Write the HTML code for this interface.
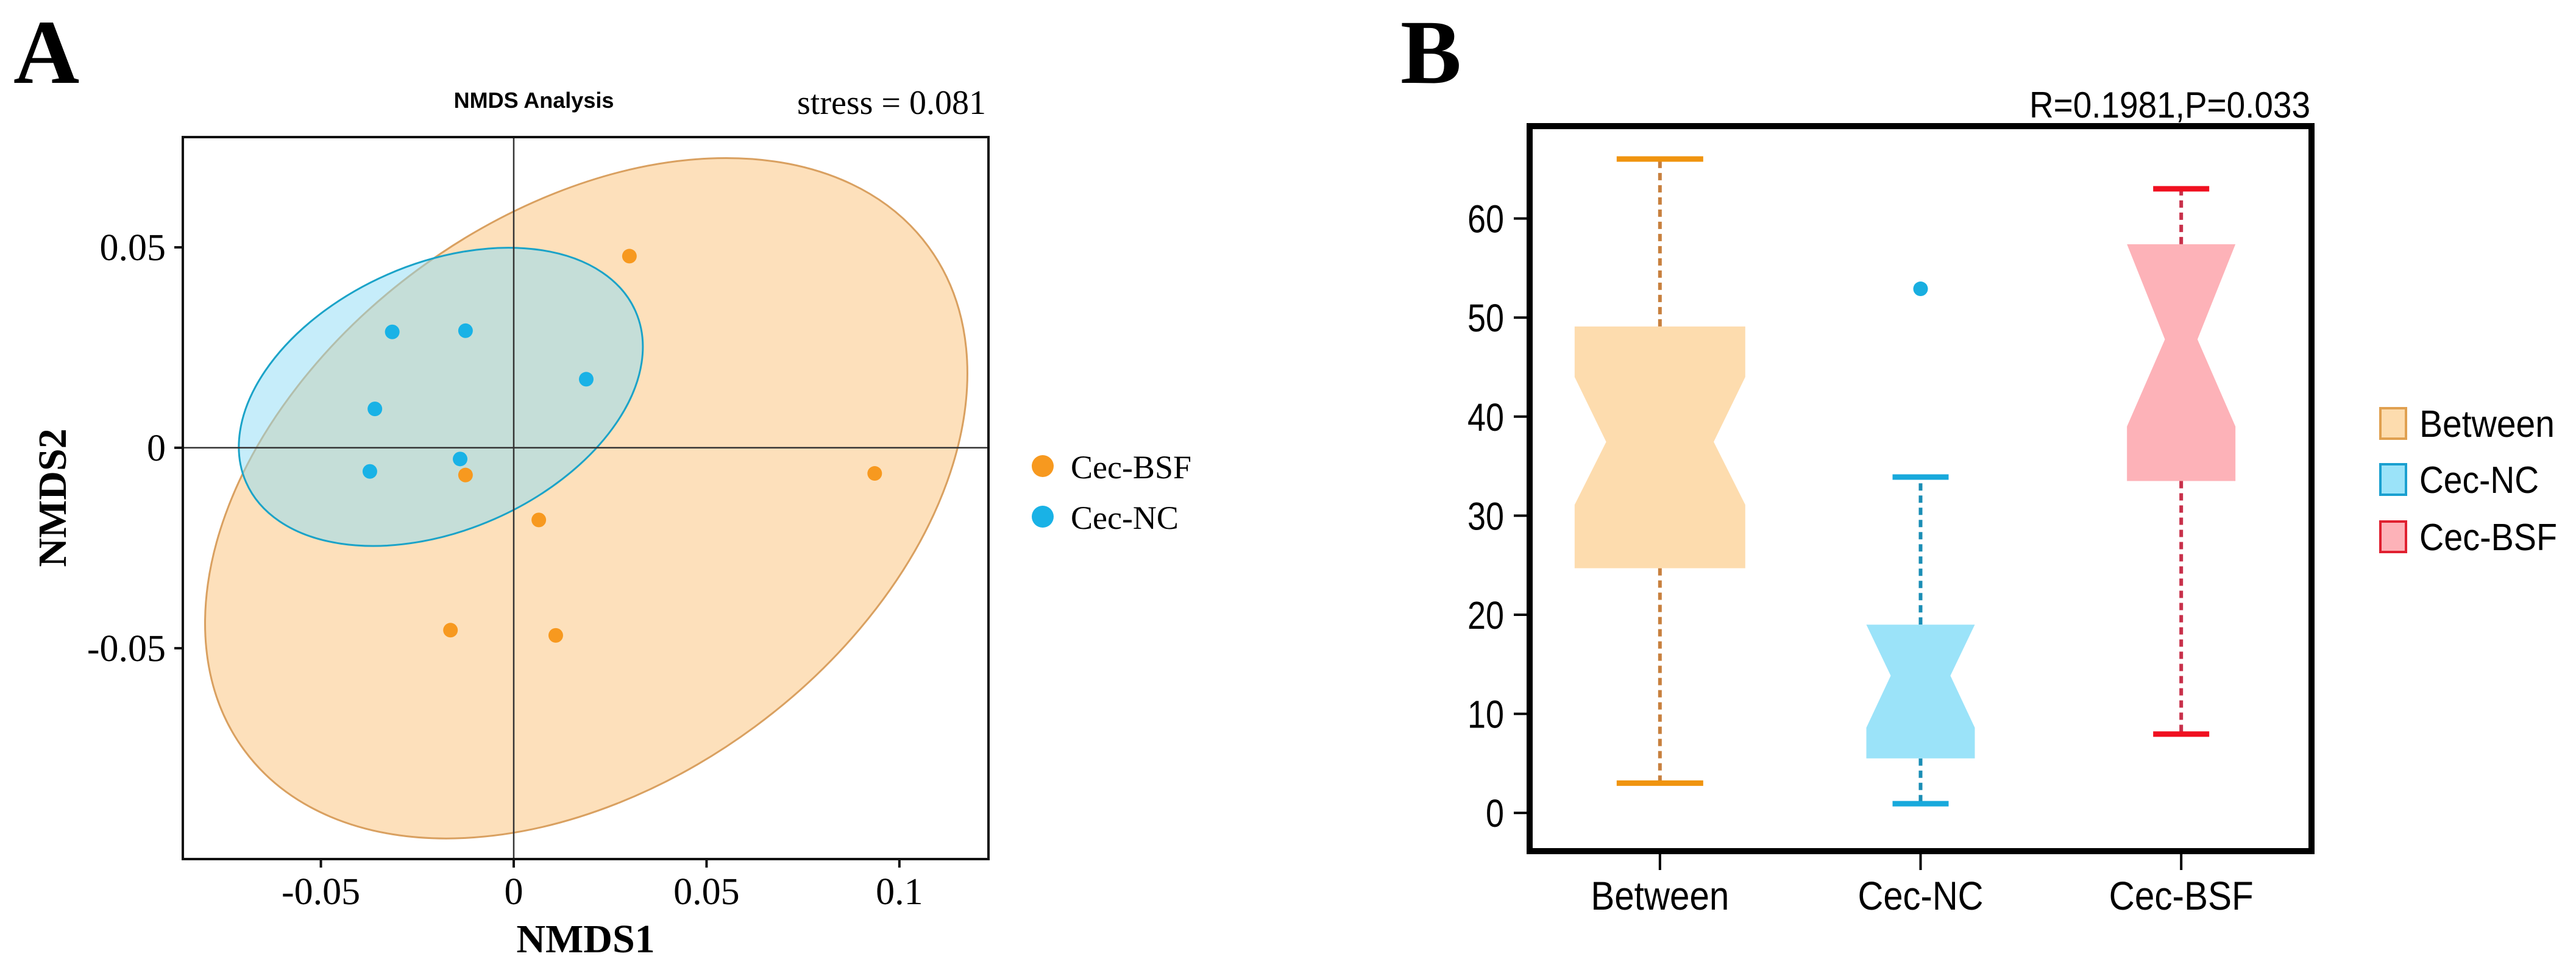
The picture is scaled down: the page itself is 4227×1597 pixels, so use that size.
<!DOCTYPE html>
<html><head><meta charset="utf-8">
<style>
html,body{margin:0;padding:0;background:#fff;}
svg{display:block;}
.serif{font-family:"Liberation Serif",serif;}
.sans{font-family:"Liberation Sans",sans-serif;}
</style></head>
<body>
<svg id="fig" width="4227" height="1597" viewBox="0 0 4227 1597" xmlns="http://www.w3.org/2000/svg">
  <rect x="0" y="0" width="4227" height="1597" fill="#fff"/>
  <g id="panelA">
    <text class="serif" x="22" y="136" font-size="150" font-weight="bold">A</text>
    <text class="sans" x="876" y="177" font-size="36" font-weight="bold" text-anchor="middle">NMDS Analysis</text>
    <text class="serif" x="1618" y="187" font-size="56" text-anchor="end">stress = 0.081</text>
    <g id="ellA"></g>
    <g id="axA"></g>
    <g id="ptsA"></g>
    <text class="serif" x="961" y="1563" font-size="66" font-weight="bold" text-anchor="middle">NMDS1</text>
    <text class="serif" x="0" y="0" font-size="66" font-weight="bold" text-anchor="middle" transform="translate(108,817) rotate(-90)">NMDS2</text>
    <g>
      <circle cx="1711" cy="765" r="18" fill="#f7991f"/>
      <text class="serif" x="1757" y="785" font-size="54">Cec-BSF</text>
      <circle cx="1711" cy="848" r="18" fill="#19b2e6"/>
      <text class="serif" x="1757" y="868" font-size="54">Cec-NC</text>
    </g>
  </g>
  <g id="panelB">
    <text class="serif" x="2298" y="136" font-size="150" font-weight="bold">B</text>
    <text class="sans" x="3791" y="193" font-size="60" text-anchor="end" textLength="461" lengthAdjust="spacingAndGlyphs">R=0.1981,P=0.033</text>
    <g id="boxB"></g>
    <g id="axB"></g>
    <g id="legB"></g>
  </g>
</svg>
<script>
// ---------- Panel A data ----------
const groupsA = ["Cec-BSF", "Cec-NC"];
const bsfX = [0.0300, -0.0125, 0.0065, -0.0164, 0.0109, 0.0936];
const bsfY = [0.0478, -0.0068, -0.0180, -0.0455, -0.0468, -0.0064];
const ncX = [-0.0315, -0.0125, 0.0188, -0.0360, -0.0373, -0.0139];
const ncY = [0.0289, 0.0292, 0.0171, 0.0097, -0.0059, -0.0028];
const ellCenterX = [0.0188, -0.0189];
const ellCenterY = [-0.0126, 0.0127];
const xTicksA = [-0.05, 0, 0.05, 0.1];
const xTickLabelsA = ["-0.05", "0", "0.05", "0.1"];
const yTicksA = [0.05, 0, -0.05];
const yTickLabelsA = ["0.05", "0", "-0.05"];

// ---------- Panel B data ----------
const categoriesB = ["Between", "Cec-NC", "Cec-BSF"];
const whiskLo = [3.0, 0.93, 7.95];
const q1 = [24.7, 5.5, 33.5];
const notchLo = [31.1, 8.6, 39.0];
const medians = [37.45, 13.85, 47.8];
const notchHi = [44.0, 19.0, 57.4];
const q3 = [49.1, 19.0, 57.4];
const whiskHi = [66.0, 33.9, 63.0];
const outlierCat = [1];
const outlierVal = [52.9];
const yTicksB = [0, 10, 20, 30, 40, 50, 60];
const yTickLabelsB = ["0", "10", "20", "30", "40", "50", "60"];

const NS = "http://www.w3.org/2000/svg";
function mk(tag, attrs, parent){
  const e = document.createElementNS(NS, tag);
  for (const k in attrs) e.setAttribute(k, attrs[k]);
  parent.appendChild(e);
  return e;
}

// ---------- Panel A ----------
const A = {l:300, r:1622, t:225, b:1410, x0:-0.0858, x1:0.1231, y0:-0.1026, y1:0.0775};
const sxA = v => A.l + (v - A.x0) / (A.x1 - A.x0) * (A.r - A.l);
const syA = v => A.b - (v - A.y0) / (A.y1 - A.y0) * (A.b - A.t);

const ellG = document.getElementById("ellA");
const ellStyle = [
  {rx:697, ry:466, rot:-36.4, fill:"#fde0bb", op:1, stroke:"#d9a060"},
  {rx:349, ry:219, rot:-23.7, fill:"#8edcf5", op:0.5, stroke:"#1ba3c8"}
];
for (let i = 0; i < groupsA.length; i++){
  const cx = sxA(ellCenterX[i]), cy = syA(ellCenterY[i]);
  const st = ellStyle[i];
  const e = mk("ellipse", {cx:cx, cy:cy, rx:st.rx, ry:st.ry, transform:`rotate(${st.rot} ${cx} ${cy})`,
    fill:st.fill, "fill-opacity":st.op, stroke:st.stroke, "stroke-width":3}, ellG);
  
  
}

const axA = document.getElementById("axA");
const zx = sxA(0), zy = syA(0);
const vline = mk("line", {x1:zx, y1:A.t, x2:zx, y2:A.b, stroke:"#333", "stroke-width":2.5}, axA);


const hline = mk("line", {x1:A.l, y1:zy, x2:A.r, y2:zy, stroke:"#333", "stroke-width":2.5}, axA);


const frameA = mk("rect", {x:A.l, y:A.t, width:A.r - A.l, height:A.b - A.t, fill:"none", stroke:"#111", "stroke-width":4}, axA);


xTicksA.forEach((v, i) => {
  const x = sxA(v);
  const t = mk("line", {x1:x, y1:A.b, x2:x, y2:A.b + 14, stroke:"#111", "stroke-width":4}, axA);
  
  
  const lb = mk("text", {x:x, y:1484, "font-size":62, "text-anchor":"middle", class:"serif"}, axA);
  lb.textContent = xTickLabelsA[i];
  
  
});
yTicksA.forEach((v, i) => {
  const y = syA(v);
  const t = mk("line", {x1:A.l - 14, y1:y, x2:A.l, y2:y, stroke:"#111", "stroke-width":4}, axA);
  
  
  const lb = mk("text", {x:272, y:y + 21, "font-size":62, "text-anchor":"end", class:"serif"}, axA);
  lb.textContent = yTickLabelsA[i];
  
  
});

const ptsG = document.getElementById("ptsA");
bsfX.forEach((v, i) => {
  const c = mk("circle", {cx:sxA(v), cy:syA(bsfY[i]), r:12, fill:"#f7991f"}, ptsG);
  
  
});
ncX.forEach((v, i) => {
  const c = mk("circle", {cx:sxA(v), cy:syA(ncY[i]), r:12, fill:"#19b2e6"}, ptsG);
  
  
});

// ---------- Panel B ----------
const B = {l:2510, r:3793, t:207, b:1397, y0:0, pxPerUnit:16.26, zeroY:1334.2};
const syB = v => B.zeroY - (v - B.y0) * B.pxPerUnit;
const band = (B.r - B.l) / categoriesB.length;
const sxB = i => B.l + band * (i + 0.5);
const boxW = [280, 178, 178];
const waistFrac = [0.63, 0.55, 0.3];
const capW = [142, 92, 92];
const fills = ["#fddcae", "#9be3f9", "#fdb2b8"];
const whiskCol = ["#c8803e", "#1a8db5", "#c8304a"];
const capCol = ["#f0940f", "#18a9dc", "#f01020"];
const legStroke = ["#e0a050", "#1aa0d0", "#e02030"];

const boxG = document.getElementById("boxB");
categoriesB.forEach((cat, i) => {
  const c = sxB(i), w = boxW[i] / 2, ww = w * waistFrac[i];
  const w1 = mk("line", {x1:c, y1:syB(q3[i]), x2:c, y2:syB(whiskHi[i]), stroke:whiskCol[i], "stroke-width":6, "stroke-dasharray":"12 8"}, boxG);
  
  
  const w2 = mk("line", {x1:c, y1:syB(q1[i]), x2:c, y2:syB(whiskLo[i]), stroke:whiskCol[i], "stroke-width":6, "stroke-dasharray":"12 8"}, boxG);
  
  
  const c1 = mk("line", {x1:c - capW[i]/2, y1:syB(whiskHi[i]), x2:c + capW[i]/2, y2:syB(whiskHi[i]), stroke:capCol[i], "stroke-width":9}, boxG);
  
  
  const c2 = mk("line", {x1:c - capW[i]/2, y1:syB(whiskLo[i]), x2:c + capW[i]/2, y2:syB(whiskLo[i]), stroke:capCol[i], "stroke-width":9}, boxG);
  
  
  const pts = [
    [c - w, syB(q3[i])], [c + w, syB(q3[i])], [c + w, syB(notchHi[i])], [c + ww, syB(medians[i])],
    [c + w, syB(notchLo[i])], [c + w, syB(q1[i])], [c - w, syB(q1[i])], [c - w, syB(notchLo[i])],
    [c - ww, syB(medians[i])], [c - w, syB(notchHi[i])]
  ].map(p => p.join(",")).join(" ");
  const bx = mk("polygon", {points:pts, fill:fills[i]}, boxG);
  
  
});
outlierCat.forEach((ci, k) => {
  const o = mk("circle", {cx:sxB(ci), cy:syB(outlierVal[k]), r:12, fill:"#19aee0"}, boxG);
  
  
});

const axB = document.getElementById("axB");
const frameB = mk("rect", {x:B.l, y:B.t, width:B.r - B.l, height:B.b - B.t, fill:"none", stroke:"#000", "stroke-width":10}, axB);


yTicksB.forEach((v, i) => {
  const y = syB(v);
  const t = mk("line", {x1:2484, y1:y, x2:B.l, y2:y, stroke:"#000", "stroke-width":4}, axB);
  
  
  const lb = mk("text", {x:2468, y:y + 23, "font-size":64, "text-anchor":"end", class:"sans", textLength: yTickLabelsB[i].length * 30, lengthAdjust:"spacingAndGlyphs"}, axB);
  lb.textContent = yTickLabelsB[i];
  
  
});
const xLabW = [227, 206, 237];
categoriesB.forEach((cat, i) => {
  const x = sxB(i);
  const t = mk("line", {x1:x, y1:B.b + 5, x2:x, y2:1428, stroke:"#000", "stroke-width":4}, axB);
  
  
  const lb = mk("text", {x:x, y:1493, "font-size":66, "text-anchor":"middle", class:"sans", textLength:xLabW[i], lengthAdjust:"spacingAndGlyphs"}, axB);
  lb.textContent = cat;
  
  
});

const legB = document.getElementById("legB");
const legY = [695, 787, 881];
const legW = [222, 196, 226];
categoriesB.forEach((cat, i) => {
  const r = mk("rect", {x:3906, y:legY[i] - 25, width:42, height:50, fill:fills[i], stroke:legStroke[i], "stroke-width":4}, legB);
  
  
  const t = mk("text", {x:3970, y:legY[i] + 22, "font-size":62, class:"sans", textLength:legW[i], lengthAdjust:"spacingAndGlyphs"}, legB);
  t.textContent = cat;
  
  
});
</script>
</body></html>
